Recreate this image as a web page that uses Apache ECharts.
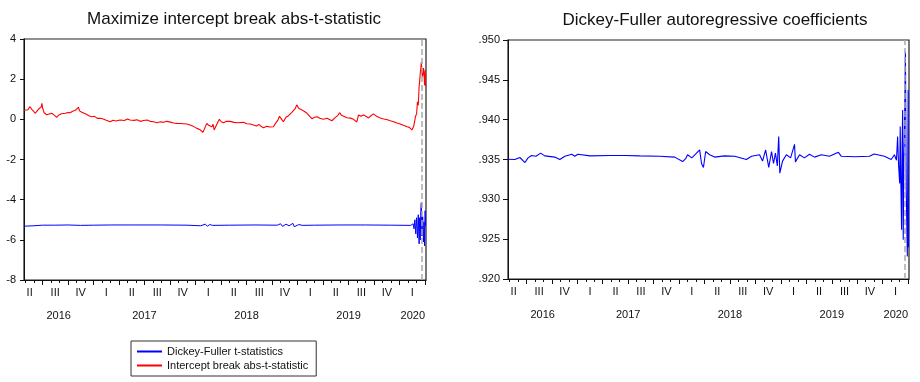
<!DOCTYPE html>
<html><head><meta charset="utf-8">
<script src="https://cdn.jsdelivr.net/npm/echarts@6/dist/echarts.min.js"></script>
<style>html,body{margin:0;padding:0;background:#fff}#c{width:920px;height:382px}</style>
</head><body><div id="c"></div>
<script>
// ---------- data ----------
const startDate = '2016-04-26';
const endDate = '2020-04-04';
const breakDate = '2020-03-20';
const quarterNames = ['I', 'II', 'III', 'IV'];
const leftTitle = 'Maximize intercept break abs-t-statistic';
const rightTitle = 'Dickey-Fuller autoregressive coefficients';
const seriesNames = ['Dickey-Fuller t-statistics', 'Intercept break abs-t-statistic'];

const redDates = ['2016-04-26','2016-05-03','2016-05-10','2016-05-17','2016-05-24','2016-05-31','2016-06-05','2016-06-10','2016-06-17','2016-06-22','2016-06-27','2016-06-29','2016-07-02','2016-07-07','2016-07-12','2016-07-17','2016-07-24','2016-08-04','2016-08-12','2016-08-22','2016-08-30','2016-09-08','2016-09-15','2016-09-22','2016-10-01','2016-10-09','2016-10-18','2016-10-28','2016-11-04','2016-11-08','2016-11-12','2016-11-20','2016-11-26','2016-12-06','2016-12-15','2016-12-26','2017-01-05','2017-01-15','2017-01-25','2017-02-05','2017-02-15','2017-02-28','2017-03-10','2017-03-20','2017-04-05','2017-04-20','2017-05-01','2017-05-10','2017-05-25','2017-06-05','2017-06-16','2017-06-28','2017-07-10','2017-07-22','2017-08-03','2017-08-15','2017-08-28','2017-09-08','2017-09-20','2017-10-02','2017-10-14','2017-10-26','2017-11-08','2017-11-20','2017-11-30','2017-12-12','2017-12-24','2018-01-06','2018-01-18','2018-01-28','2018-02-03','2018-02-10','2018-02-16','2018-02-22','2018-02-27','2018-03-03','2018-03-07','2018-03-15','2018-03-22','2018-03-26','2018-04-02','2018-04-10','2018-04-20','2018-05-03','2018-05-18','2018-06-01','2018-06-08','2018-06-20','2018-07-02','2018-07-14','2018-07-26','2018-08-07','2018-08-15','2018-08-24','2018-09-01','2018-09-12','2018-09-24','2018-10-06','2018-10-16','2018-10-22','2018-10-28','2018-11-05','2018-11-11','2018-11-20','2018-11-29','2018-12-05','2018-12-11','2018-12-18','2018-12-24','2018-12-29','2019-01-05','2019-01-11','2019-01-17','2019-01-25','2019-02-04','2019-02-10','2019-02-20','2019-03-01','2019-03-10','2019-03-20','2019-04-02','2019-04-15','2019-05-02','2019-05-15','2019-05-24','2019-05-30','2019-06-06','2019-06-13','2019-06-25','2019-07-08','2019-07-19','2019-07-31','2019-08-06','2019-08-15','2019-08-24','2019-09-02','2019-09-11','2019-09-20','2019-09-29','2019-10-10','2019-10-23','2019-11-05','2019-11-18','2019-11-28','2019-12-10','2019-12-22','2020-01-03','2020-01-15','2020-01-28','2020-02-05','2020-02-14','2020-02-20','2020-02-26','2020-03-01','2020-03-04','2020-03-07','2020-03-10','2020-03-12','2020-03-14','2020-03-16','2020-03-18','2020-03-20','2020-03-22','2020-03-24','2020-03-26','2020-03-28','2020-03-30','2020-04-01','2020-04-02'];
const redVals = [0.45,0.50,0.48,0.63,0.50,0.40,0.30,0.38,0.50,0.45,0.62,0.80,0.55,0.33,0.28,0.23,0.30,0.30,0.22,0.10,0.22,0.28,0.36,0.30,0.34,0.33,0.40,0.45,0.50,0.60,0.42,0.35,0.30,0.25,0.18,0.13,0.15,0.05,0.05,0.02,-0.05,-0.12,-0.05,-0.08,-0.03,-0.06,0.02,-0.03,-0.05,-0.02,-0.10,-0.06,-0.03,-0.10,-0.12,-0.17,-0.12,-0.15,-0.10,-0.14,-0.18,-0.20,-0.21,-0.22,-0.23,-0.28,-0.35,-0.45,-0.52,-0.65,-0.45,-0.20,-0.30,-0.28,-0.37,-0.25,-0.53,-0.30,-0.10,0.00,-0.12,-0.17,-0.10,-0.10,-0.15,-0.17,-0.20,-0.15,-0.22,-0.23,-0.28,-0.33,-0.25,-0.36,-0.42,-0.35,-0.38,-0.37,-0.15,-0.05,0.15,0.00,-0.12,0.10,0.18,0.25,0.35,0.40,0.55,0.72,0.55,0.62,0.47,0.40,0.30,0.25,0.03,0.10,0.13,0.05,0.00,0.05,-0.07,0.10,0.20,0.33,0.20,0.13,0.08,0.06,0.00,-0.13,0.22,0.15,0.22,0.15,0.07,0.18,0.27,0.15,0.07,0.02,-0.02,-0.07,-0.12,-0.18,-0.23,-0.30,-0.37,-0.40,-0.53,-0.35,0.13,0.30,0.87,0.70,1.63,1.90,2.28,2.50,2.85,2.40,2.10,2.30,2.55,2.20,1.70,2.45,1.65];

const dfDates = ['2016-04-26','2016-06-01','2016-07-01','2016-08-15','2016-10-01','2016-11-15','2017-01-01','2017-03-01','2017-06-01','2017-09-01','2017-12-01','2018-01-20','2018-02-05','2018-02-12','2018-02-20','2018-03-01','2018-05-01','2018-08-01','2018-10-20','2018-11-01','2018-11-08','2018-11-20','2018-12-01','2018-12-15','2018-12-20','2019-01-05','2019-01-20','2019-03-01','2019-06-01','2019-09-01','2019-12-01','2020-02-10','2020-02-18','2020-02-21','2020-02-24','2020-02-27','2020-03-01','2020-03-04','2020-03-07','2020-03-10','2020-03-12','2020-03-14','2020-03-16','2020-03-18','2020-03-20','2020-03-23','2020-03-26','2020-03-28','2020-03-30','2020-04-01','2020-04-02'];
const dfVals = [-5.32,-5.30,-5.27,-5.27,-5.26,-5.28,-5.27,-5.26,-5.26,-5.26,-5.27,-5.30,-5.22,-5.32,-5.24,-5.28,-5.27,-5.26,-5.27,-5.20,-5.33,-5.22,-5.30,-5.18,-5.35,-5.24,-5.28,-5.27,-5.26,-5.26,-5.27,-5.28,-5.20,-5.45,-5.00,-5.70,-4.90,-5.90,-4.75,-6.20,-4.90,-6.00,-4.60,-4.15,-5.80,-4.85,-6.10,-5.10,-6.30,-4.55,-5.30];

const coefDates = ['2016-04-26','2016-05-21','2016-06-08','2016-06-26','2016-07-07','2016-07-20','2016-08-05','2016-08-22','2016-09-06','2016-10-12','2016-10-30','2016-11-17','2016-12-12','2016-12-23','2017-01-03','2017-02-15','2017-04-26','2017-06-19','2017-08-12','2017-10-23','2017-12-16','2018-01-14','2018-01-25','2018-02-01','2018-02-15','2018-02-28','2018-03-14','2018-03-21','2018-03-28','2018-04-05','2018-04-19','2018-05-07','2018-06-12','2018-07-18','2018-08-30','2018-09-17','2018-10-16','2018-10-27','2018-11-07','2018-11-18','2018-11-28','2018-12-05','2018-12-12','2018-12-19','2018-12-24','2018-12-28','2019-01-07','2019-01-21','2019-02-05','2019-02-18','2019-02-21','2019-03-07','2019-03-25','2019-04-12','2019-04-30','2019-05-25','2019-06-23','2019-07-25','2019-08-05','2019-09-21','2019-11-14','2019-12-01','2020-01-07','2020-02-01','2020-02-12','2020-02-19','2020-02-23','2020-02-26','2020-03-01','2020-03-03','2020-03-05','2020-03-08','2020-03-10','2020-03-12','2020-03-14','2020-03-16','2020-03-18','2020-03-22','2020-03-25','2020-03-29','2020-04-01','2020-04-02'];
const coefVals = [0.93504,0.93500,0.93525,0.93462,0.93520,0.93550,0.93540,0.93580,0.93545,0.93530,0.93500,0.93540,0.93565,0.93540,0.93565,0.93545,0.93550,0.93550,0.93545,0.93540,0.93530,0.93474,0.93510,0.93560,0.93520,0.93570,0.93620,0.93450,0.93400,0.93600,0.93560,0.93530,0.93545,0.93540,0.93500,0.93540,0.93560,0.93480,0.93620,0.93400,0.93600,0.93450,0.93580,0.93420,0.93788,0.93329,0.93480,0.93560,0.93520,0.93690,0.93470,0.93560,0.93520,0.93565,0.93530,0.93560,0.93540,0.93590,0.93540,0.93535,0.93540,0.93570,0.93540,0.93500,0.93560,0.93490,0.93788,0.93450,0.93200,0.93913,0.93300,0.92618,0.93700,0.94122,0.92493,0.93450,0.93746,0.94853,0.93120,0.92283,0.94373,0.92400];

// ---------- helpers ----------
function toM(s) {
  const [y, m, d] = s.split('-').map(Number);
  const dim = new Date(y, m, 0).getDate();
  return (y - 2016) * 12 + (m - 1) + (d - 1) / dim;
}
const xMin = toM(startDate), xMax = toM(endDate);
const monthTicks = [], quarterTicks = [], quarterCenters = [];
for (let m = Math.ceil(xMin); m <= Math.floor(xMax); m++) {
  monthTicks.push(m);
  if (m % 3 === 0) quarterTicks.push(m);
}
for (let q = Math.floor(xMin / 3); q * 3 < xMax; q++) quarterCenters.push(q * 3 + 1.5);
const yearCenters = [];
for (let y = Math.floor(xMin / 12); y * 12 < xMax; y++) {
  const a = Math.max(y * 12, xMin), b = Math.min(y * 12 + 12, xMax);
  yearCenters.push((a + b) / 2);
}
const pairs = (ds, vs) => ds.map((d, i) => [toM(d), vs[i]]);

const font = 'Liberation Sans, Arial, sans-serif';
const grids = [
  {left: 24, top: 39, width: 402, height: 241},
  {left: 508, top: 40, width: 401, height: 239}
];

function xAxesFor(g) {
  return [
    {type: 'value', gridIndex: g, position: 'bottom', min: xMin, max: xMax,
     axisLine: {show: true, onZero: false, lineStyle: {color: '#111', width: 1}},
     axisTick: {show: true, customValues: monthTicks, length: 3, lineStyle: {color: '#111'}},
     axisLabel: {customValues: quarterCenters, margin: 7, fontSize: 11, color: '#111', fontFamily: font,
                 formatter: v => quarterNames[Math.floor(v / 3) % 4]},
     splitLine: {show: false}},
    {type: 'value', gridIndex: g, position: 'bottom', min: xMin, max: xMax,
     axisLine: {show: false, onZero: false},
     axisTick: {show: true, customValues: quarterTicks, length: 5, lineStyle: {color: '#111'}},
     axisLabel: {show: false}, splitLine: {show: false}},
    {type: 'value', gridIndex: g, position: 'bottom', min: xMin, max: xMax, offset: 22,
     axisLine: {show: false, onZero: false}, axisTick: {show: false},
     axisLabel: {customValues: yearCenters, fontSize: 11, color: '#111', fontFamily: font,
                 formatter: v => String(2016 + Math.floor(v / 12))},
     splitLine: {show: false}}
  ];
}

const breakLine = {
  silent: true, symbol: 'none', label: {show: false},
  lineStyle: {type: 'dashed', color: '#aaaaaa', width: 1.5},
  data: [{xAxis: toM(breakDate)}]
};

const chart = echarts.init(document.getElementById('c'), null, {renderer: 'canvas'});
chart.setOption({
  animation: false,
  backgroundColor: '#fff',
  title: [
    {text: leftTitle, left: 229, top: 6, textAlign: 'center',
     textStyle: {fontSize: 17, fontWeight: 'normal', color: '#111', fontFamily: font}},
    {text: rightTitle, left: 710, top: 7, textAlign: 'center',
     textStyle: {fontSize: 17, fontWeight: 'normal', color: '#111', fontFamily: font}}
  ],
  legend: {
    data: seriesNames, orient: 'vertical', left: 131, top: 341,
    icon: 'rect', itemWidth: 25, itemHeight: 2, itemGap: 3,
    padding: [5, 8, 5, 6], borderColor: '#333', borderWidth: 1,
    textStyle: {fontSize: 11, color: '#111', fontFamily: font}
  },
  grid: grids.map(g => Object.assign({show: true, borderColor: '#222', borderWidth: 1.2, backgroundColor: 'transparent'}, g)),
  xAxis: [...xAxesFor(0), ...xAxesFor(1)],
  yAxis: [
    {type: 'value', gridIndex: 0, min: -8, max: 4, interval: 2,
     axisLine: {show: true, onZero: false, lineStyle: {color: '#111'}},
     axisTick: {show: true, length: 4, lineStyle: {color: '#111'}},
     axisLabel: {fontSize: 11, color: '#111', margin: 8, fontFamily: font},
     splitLine: {show: false}},
    {type: 'value', gridIndex: 1, min: 0.92, max: 0.95, interval: 0.005,
     axisLine: {show: true, onZero: false, lineStyle: {color: '#111'}},
     axisTick: {show: true, length: 5, lineStyle: {color: '#111'}},
     axisLabel: {fontSize: 11, color: '#111', margin: 8, fontFamily: font,
                 formatter: v => v.toFixed(3).replace(/^0/, '')},
     splitLine: {show: false}}
  ],
  series: [
    {name: seriesNames[0], type: 'line', xAxisIndex: 0, yAxisIndex: 0,
     data: pairs(dfDates, dfVals), showSymbol: false, symbol: 'none',
     lineStyle: {color: '#0000ff', width: 1}, itemStyle: {color: '#0000ff'}, z: 3},
    {name: seriesNames[1], type: 'line', xAxisIndex: 0, yAxisIndex: 0,
     data: pairs(redDates, redVals), showSymbol: false, symbol: 'none',
     lineStyle: {color: '#ff0000', width: 1.1}, itemStyle: {color: '#ff0000'}, z: 3,
     markLine: breakLine},
    {name: 'coef', type: 'line', xAxisIndex: 3, yAxisIndex: 1,
     data: pairs(coefDates, coefVals), showSymbol: false, symbol: 'none',
     lineStyle: {color: '#0000ff', width: 1.1}, itemStyle: {color: '#0000ff'}, z: 3,
     markLine: breakLine}
  ]
});
</script>
</body></html>
